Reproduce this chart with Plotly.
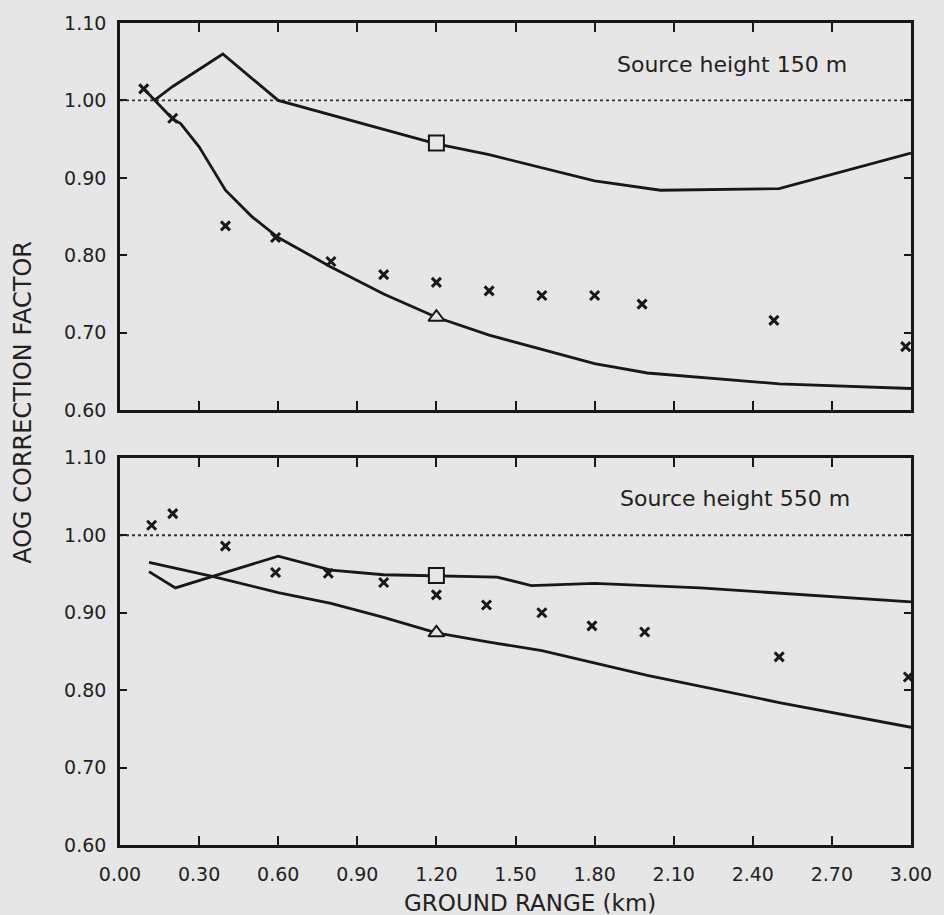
import plotly.graph_objects as go

# ---------------- data ----------------
x_tick_vals = [0.0, 0.3, 0.6, 0.9, 1.2, 1.5, 1.8, 2.1, 2.4, 2.7, 3.0]
x_tick_text = ["0.00", "0.30", "0.60", "0.90", "1.20", "1.50", "1.80", "2.10", "2.40", "2.70", "3.00"]
y_tick_vals = [0.6, 0.7, 0.8, 0.9, 1.0, 1.1]
y_tick_text = ["0.60", "0.70", "0.80", "0.90", "1.00", "1.10"]
reference_level = 1.0

# Source height 150 m
h150_upper_x = [0.13, 0.2, 0.39, 0.6, 1.2, 1.4, 1.8, 2.05, 2.5, 3.0]
h150_upper_y = [1.000, 1.018, 1.060, 1.000, 0.944, 0.930, 0.896, 0.884, 0.886, 0.932]
h150_lower_x = [0.09, 0.2, 0.23, 0.3, 0.4, 0.5, 0.6, 0.8, 1.0, 1.2, 1.4, 1.6, 1.8, 2.0, 2.5, 3.0]
h150_lower_y = [1.015, 0.976, 0.970, 0.940, 0.884, 0.850, 0.823, 0.785, 0.750, 0.720,
                0.697, 0.678, 0.660, 0.648, 0.634, 0.628]
h150_obs_x = [0.09, 0.2, 0.4, 0.59, 0.8, 1.0, 1.2, 1.4, 1.6, 1.8, 1.98, 2.48, 2.98]
h150_obs_y = [1.015, 0.977, 0.838, 0.823, 0.792, 0.775, 0.765, 0.754, 0.748, 0.748, 0.737, 0.716, 0.682]
h150_square = (1.2, 0.945)
h150_triangle = (1.2, 0.720)

# Source height 550 m
h550_upper_x = [0.11, 0.21, 0.6, 0.8, 1.0, 1.2, 1.43, 1.56, 1.8, 2.2, 3.0]
h550_upper_y = [0.953, 0.932, 0.973, 0.955, 0.949, 0.948, 0.946, 0.935, 0.938, 0.932, 0.914]
h550_lower_x = [0.11, 0.35, 0.6, 0.8, 1.0, 1.2, 1.4, 1.6, 2.0, 2.5, 3.0]
h550_lower_y = [0.965, 0.947, 0.926, 0.912, 0.894, 0.874, 0.862, 0.851, 0.819, 0.784, 0.752]
h550_obs_x = [0.12, 0.2, 0.4, 0.59, 0.79, 1.0, 1.2, 1.39, 1.6, 1.79, 1.99, 2.5, 2.99]
h550_obs_y = [1.013, 1.028, 0.986, 0.952, 0.951, 0.939, 0.923, 0.910, 0.900, 0.883, 0.875, 0.843, 0.817]
h550_square = (1.2, 0.948)
h550_triangle = (1.2, 0.874)

panel_labels = ["Source height 150 m", "Source height 550 m"]

# ---------------- styling ----------------
BG = "#e6e6e6"
INK = "#181818"
FONT = "DejaVu Sans"

fig = go.Figure()

panels = [
    ("x", "y", h150_upper_x, h150_upper_y, h150_lower_x, h150_lower_y,
     h150_obs_x, h150_obs_y, h150_square, h150_triangle),
    ("x2", "y2", h550_upper_x, h550_upper_y, h550_lower_x, h550_lower_y,
     h550_obs_x, h550_obs_y, h550_square, h550_triangle),
]

for xa, ya, ux, uy, lx, ly, ox, oy, sq, tri in panels:
    fig.add_trace(go.Scatter(x=[0, 3], y=[reference_level, reference_level], xaxis=xa, yaxis=ya,
                             mode="lines", line=dict(color="#333333", width=1.8, dash="dot"),
                             hoverinfo="skip"))
    fig.add_trace(go.Scatter(x=ux, y=uy, xaxis=xa, yaxis=ya, mode="lines",
                             line=dict(color=INK, width=2.8)))
    fig.add_trace(go.Scatter(x=lx, y=ly, xaxis=xa, yaxis=ya, mode="lines",
                             line=dict(color=INK, width=2.8)))
    fig.add_trace(go.Scatter(x=ox, y=oy, xaxis=xa, yaxis=ya, mode="markers",
                             marker=dict(symbol="x-thin", size=9, color=INK,
                                         line=dict(color=INK, width=3))))
    fig.add_trace(go.Scatter(x=[sq[0]], y=[sq[1]], xaxis=xa, yaxis=ya, mode="markers",
                             marker=dict(symbol="square", size=15, color=BG,
                                         line=dict(color=INK, width=2))))
    fig.add_trace(go.Scatter(x=[tri[0]], y=[tri[1]], xaxis=xa, yaxis=ya, mode="markers",
                             marker=dict(symbol="triangle-up", size=14, color=BG,
                                         line=dict(color=INK, width=2))))

axis_common = dict(showline=True, linecolor=INK, linewidth=2.6, mirror="ticks",
                   ticks="inside", tickcolor=INK, tickwidth=2, showgrid=False, zeroline=False,
                   tickfont=dict(family=FONT, size=19, color="#222222"))

fig.update_layout(
    width=944, height=915, autosize=False,
    paper_bgcolor=BG, plot_bgcolor=BG,
    showlegend=False,
    margin=dict(l=120, r=30, t=19, b=70),
    xaxis=dict(range=[0, 3], tickvals=x_tick_vals, ticktext=x_tick_text, showticklabels=False,
               anchor="y", ticklen=9, **axis_common),
    yaxis=dict(range=[0.6, 1.1], tickvals=y_tick_vals, ticktext=y_tick_text,
               domain=[0.529, 1.0], anchor="x", ticklen=7, ticklabelstandoff=7, **axis_common),
    xaxis2=dict(range=[0, 3], tickvals=x_tick_vals, ticktext=x_tick_text,
                anchor="y2", ticklen=9, ticklabelstandoff=10, **axis_common),
    yaxis2=dict(range=[0.6, 1.1], tickvals=y_tick_vals, ticktext=y_tick_text,
                domain=[0.0, 0.471], anchor="x2", ticklen=7, ticklabelstandoff=7, **axis_common),
)

fig.add_annotation(x=0.922, y=1.047, xref="x domain", yref="y", text=panel_labels[0], showarrow=False,
                   xanchor="right", yanchor="middle", font=dict(family=FONT, size=22, color="#222222"))
fig.add_annotation(x=0.925, y=1.047, xref="x2 domain", yref="y2", text=panel_labels[1], showarrow=False,
                   xanchor="right", yanchor="middle", font=dict(family=FONT, size=22, color="#222222"))

fig.add_annotation(x=-0.123, y=(845 - 400) / 826, xref="paper", yref="paper", text="AOG CORRECTION FACTOR",
                   showarrow=False, textangle=-90, xanchor="center", yanchor="middle",
                   font=dict(family=FONT, size=24, color="#222222"))
fig.add_annotation(x=(531 - 120) / 792, y=(845 - 903) / 826, xref="paper", yref="paper",
                   text="GROUND RANGE (km)",
                   showarrow=False, xanchor="center", yanchor="middle",
                   font=dict(family=FONT, size=23, color="#222222"))

fig.write_html("out.html", config={"displayModeBar": False},
               post_script="document.body.style.margin='0';document.body.style.overflow='hidden';")
